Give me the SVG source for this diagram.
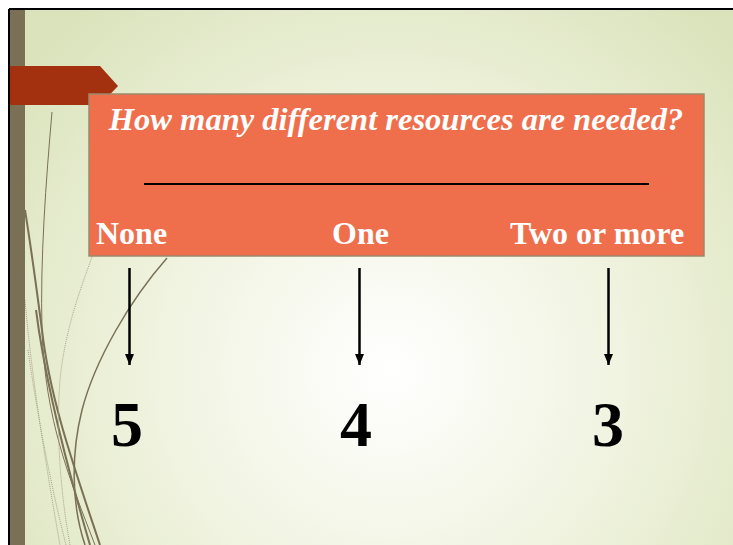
<svg xmlns="http://www.w3.org/2000/svg" width="733" height="545" viewBox="0 0 733 545">
<defs>
<radialGradient id="bg" cx="390" cy="370" r="470" gradientUnits="userSpaceOnUse">
<stop offset="0" stop-color="#ffffff"/>
<stop offset="0.55" stop-color="#eef2dc"/>
<stop offset="1" stop-color="#dbe3bc"/>
</radialGradient>
<marker id="ah" viewBox="0 0 11 9" refX="11" refY="4.5" markerWidth="11" markerHeight="9" markerUnits="userSpaceOnUse" orient="auto">
<path d="M0,0 L11,4.5 L0,9 Z" fill="#000"/>
</marker>
</defs>
<style>
.lbl{font-family:"Liberation Serif","Times New Roman",serif;font-weight:bold;fill:#fff;font-size:32px}
.ttl{font-style:italic;font-size:32.5px;text-anchor:middle}
.num{font-family:"Liberation Serif","Times New Roman",serif;font-weight:bold;fill:#000;font-size:64px;text-anchor:middle}
.arr{stroke:#000;stroke-width:2.5;fill:none}
.deco{fill:none;stroke:#7a7055}
.dots{fill:none;stroke:#a8a28a;stroke-width:1;stroke-dasharray:1 1}
</style>
<rect x="0" y="0" width="733" height="545" fill="#fff"/>
<rect x="9" y="9" width="724" height="536" fill="url(#bg)"/>
<g id="decor">
<path class="deco" stroke-width="1" d="M52,112 C46,180 40,260 42,330 C45,420 70,480 95,545"/>
<path class="deco" stroke-width="2" d="M25,210 C33,260 38,300 42,330 C50,400 75,470 100,545"/>
<path class="deco" stroke-width="2" d="M36,310 C45,380 65,460 90,545"/>
<path class="deco" stroke-width="1.5" d="M167,258 C130,300 95,360 82,410 C72,450 70,500 85,545"/>
<path class="dots" d="M92,257 C80,290 65,330 60,380 C56,430 60,490 70,545"/>
<path class="dots" d="M25,300 C32,380 45,460 60,545"/>
<path class="dots" d="M28,350 C38,420 52,490 66,545"/>
</g>
<rect x="10" y="10" width="15" height="535" fill="#7a7055"/>
<path d="M9,9 H733 M9,9 V545" stroke="#000" stroke-width="2" fill="none"/>
<g id="tab">
<path d="M10,66 H100 L118,86 L100,105 H10 Z" fill="#a3300f"/>
</g>
<g id="box">
<rect x="89" y="94" width="615" height="162" fill="#ef6e4c" stroke="#9b8a6b" stroke-width="1.5"/>
<text x="396" y="130" class="lbl ttl">How many different resources are needed?</text>
<line x1="144" y1="184" x2="649" y2="184" stroke="#000" stroke-width="2"/>
</g>
<g id="node-none"><text x="96" y="244" class="lbl">None</text></g>
<g id="node-one"><text x="332" y="244" class="lbl">One</text></g>
<g id="node-two"><text x="510" y="244" class="lbl">Two or more</text></g>
<g id="connectors">
<line class="arr" x1="129.5" y1="268" x2="129.5" y2="365" marker-end="url(#ah)"/>
<line class="arr" x1="359.5" y1="268" x2="359.5" y2="365" marker-end="url(#ah)"/>
<line class="arr" x1="608.5" y1="268" x2="608.5" y2="365" marker-end="url(#ah)"/>
</g>
<g id="node-5"><text x="127" y="446" class="num">5</text></g>
<g id="node-4"><text x="356" y="446" class="num">4</text></g>
<g id="node-3"><text x="608" y="446" class="num">3</text></g>
</svg>
